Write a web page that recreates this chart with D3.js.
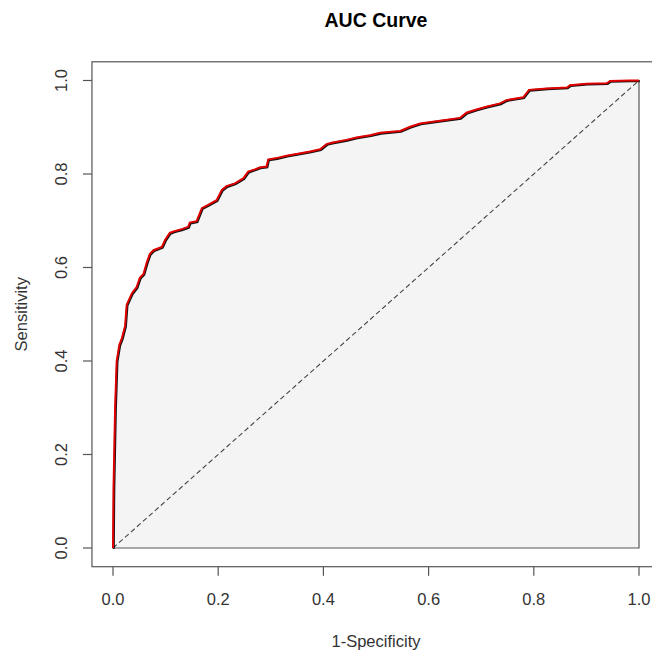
<!DOCTYPE html>
<html>
<head>
<meta charset="utf-8">
<script src="https://cdn.jsdelivr.net/npm/d3@7"></script>
<style>
  body { margin: 0; background: #fff; }
  text { font-family: "Liberation Sans", Arial, sans-serif; fill: #333; }
</style>
</head>
<body>
<svg id="chart" width="652" height="653"></svg>
<script>
// ROC points
const fpr = [0, 0.001, 0.004, 0.007, 0.012, 0.017, 0.023, 0.026, 0.032, 0.036, 0.045, 0.051, 0.058, 0.064,
  0.070, 0.077, 0.093, 0.099, 0.108, 0.115, 0.131, 0.143, 0.146, 0.159, 0.169, 0.181, 0.197, 0.207,
  0.216, 0.232, 0.248, 0.257, 0.270, 0.279, 0.292, 0.295, 0.311, 0.330, 0.349, 0.375, 0.394, 0.406,
  0.416, 0.444, 0.463, 0.489, 0.508, 0.546, 0.565, 0.584, 0.622, 0.660, 0.672, 0.691, 0.710, 0.736,
  0.748, 0.780, 0.791, 0.825, 0.863, 0.869, 0.901, 0.939, 0.945, 0.983, 1.0];
const tpr = [0, 0.13, 0.30, 0.40, 0.434, 0.449, 0.475, 0.52, 0.535, 0.545, 0.558, 0.578, 0.586, 0.610,
  0.629, 0.637, 0.644, 0.659, 0.674, 0.677, 0.682, 0.687, 0.696, 0.699, 0.727, 0.734, 0.744, 0.766,
  0.774, 0.780, 0.791, 0.805, 0.810, 0.814, 0.816, 0.831, 0.834, 0.839, 0.843, 0.848, 0.853, 0.864,
  0.867, 0.873, 0.878, 0.883, 0.888, 0.892, 0.901, 0.908, 0.914, 0.920, 0.931, 0.938, 0.944, 0.951,
  0.958, 0.964, 0.980, 0.983, 0.985, 0.990, 0.993, 0.994, 0.999, 1.0, 1.0];
const ticks = [0, 0.2, 0.4, 0.6, 0.8, 1.0];

const pts = fpr.map((f, i) => [f, tpr[i]]);

const svg = d3.select("#chart");
const x = d3.scaleLinear().domain([0, 1]).range([113, 639]);
const y = d3.scaleLinear().domain([0, 1]).range([548, 80.5]);

// plot box (R extends 4% each side; right edge falls outside the window)
const bx0 = x(-0.04), bx1 = x(1.04), by0 = y(-0.04), by1 = y(1.04);

// shaded area under curve
const area = pts.concat([[1, 0], [0, 0]]);
svg.append("path")
  .attr("d", d3.line().x(d => x(d[0])).y(d => y(d[1]))(area) + "Z")
  .attr("fill", "#f4f4f4")
  .attr("stroke", "#555")
  .attr("stroke-width", 1.2);

// chance diagonal
svg.append("line")
  .attr("x1", x(0)).attr("y1", y(0)).attr("x2", x(1)).attr("y2", y(1))
  .attr("stroke", "#444").attr("stroke-width", 1.1)
  .attr("stroke-dasharray", "5,3");

const line = d3.line().x(d => x(d[0])).y(d => y(d[1]));
svg.append("path").attr("d", line(pts))
  .attr("fill", "none").attr("stroke", "#111").attr("stroke-width", 2)
  .attr("transform", "translate(0.8,0.8)");
svg.append("path").attr("d", line(pts))
  .attr("fill", "none").attr("stroke", "#e00000").attr("stroke-width", 2);

// box
svg.append("rect")
  .attr("x", bx0).attr("y", by1)
  .attr("width", bx1 - bx0).attr("height", by0 - by1)
  .attr("fill", "none").attr("stroke", "#555").attr("stroke-width", 1.2);

// x ticks
const xt = svg.append("g");
xt.selectAll("line").data(ticks).join("line")
  .attr("x1", d => x(d)).attr("x2", d => x(d))
  .attr("y1", by0).attr("y2", by0 + 9)
  .attr("stroke", "#555").attr("stroke-width", 1.2);
xt.selectAll("text").data(ticks).join("text")
  .attr("x", d => x(d)).attr("y", 605)
  .attr("text-anchor", "middle").attr("font-size", 16.5)
  .text(d3.format(".1f"));

// y ticks
const yt = svg.append("g");
yt.selectAll("line").data(ticks).join("line")
  .attr("x1", bx0 - 9).attr("x2", bx0)
  .attr("y1", d => y(d)).attr("y2", d => y(d))
  .attr("stroke", "#555").attr("stroke-width", 1.2);
yt.selectAll("text").data(ticks).join("text")
  .attr("transform", d => `translate(67,${y(d)}) rotate(-90)`)
  .attr("text-anchor", "middle").attr("font-size", 16.5)
  .text(d3.format(".1f"));

// titles
const cx = (bx0 + bx1) / 2;
svg.append("text").attr("x", cx).attr("y", 27)
  .attr("text-anchor", "middle").attr("font-size", 19.5).attr("font-weight", "bold")
  .style("fill", "#000").text("AUC Curve");
svg.append("text").attr("x", cx).attr("y", 647)
  .attr("text-anchor", "middle").attr("font-size", 16.5).text("1-Specificity");
svg.append("text")
  .attr("transform", `translate(27,${(by0 + by1) / 2}) rotate(-90)`)
  .attr("text-anchor", "middle").attr("font-size", 16.5).text("Sensitivity");
</script>
</body>
</html>
